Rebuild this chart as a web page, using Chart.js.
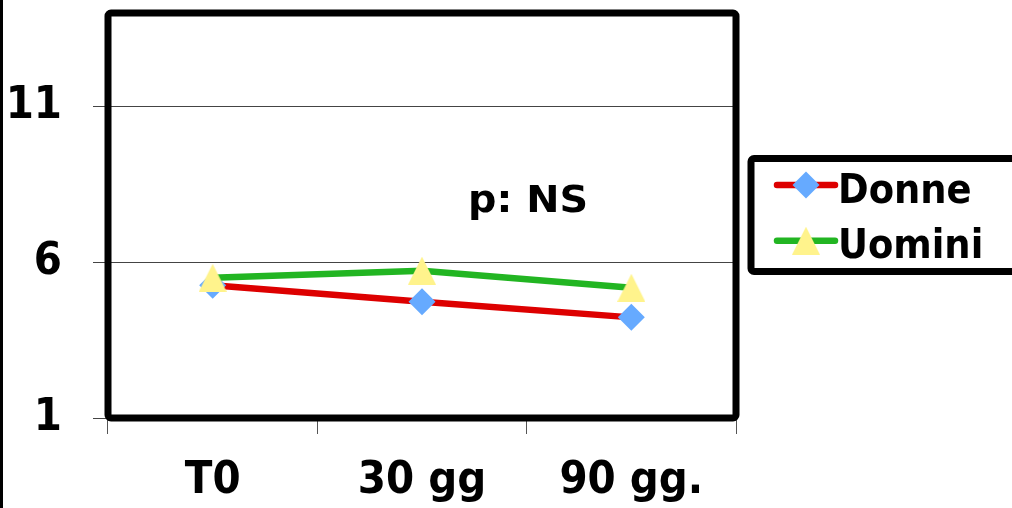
<!DOCTYPE html>
<html>
<head>
<meta charset="utf-8">
<script src="https://cdn.jsdelivr.net/npm/chart.js@4.4.1/dist/chart.umd.min.js"></script>
<style>
  html, body { margin: 0; padding: 0; background: #fff; overflow: hidden; }
  canvas { display: block; }
</style>
</head>
<body>
<canvas id="c" width="1012" height="508"></canvas>
<script>
// Chart values
const categories = ['T0', '30 gg', '90 gg.'];
const donneValues = [5.26, 4.73, 4.23];
const uominiValues = [5.50, 5.73, 5.18];
const yTickValues = [1, 6, 11];
const seriesNames = ['Donne', 'Uomini'];
const noteText = 'p: NS';

const LABEL_FONT = "'DejaVu Sans Condensed', 'DejaVu Sans', sans-serif";

// Isosceles triangle marker (as wide as it is tall)
function makeTriangle(size, color) {
  const c = document.createElement('canvas');
  c.width = size; c.height = size;
  const g = c.getContext('2d');
  g.fillStyle = color;
  g.beginPath();
  g.moveTo(size / 2, 0);
  g.lineTo(size, size);
  g.lineTo(0, size);
  g.closePath();
  g.fill();
  return c;
}
const triangleMarker = makeTriangle(28, '#FFF38C');

// Thick rounded plot frame, left edge rule, boxed legend and note text
const decorPlugin = {
  id: 'decor',
  afterDraw(chart) {
    const { ctx, chartArea: a } = chart;
    ctx.save();

    ctx.fillStyle = '#000';
    ctx.fillRect(0, 0, 3, chart.height);

    ctx.lineWidth = 7;
    ctx.strokeStyle = '#000';
    ctx.lineJoin = 'round';
    ctx.beginPath();
    ctx.roundRect(a.left, a.top, a.right - a.left, a.bottom - a.top, 3);
    ctx.stroke();

    // legend box
    ctx.beginPath();
    ctx.roundRect(751, 158.5, 300, 113, 3);
    ctx.stroke();

    chart.data.datasets.forEach((ds, i) => {
      const ly = 185 + i * 55.7;
      ctx.lineCap = 'round';
      ctx.lineWidth = ds.borderWidth;
      ctx.strokeStyle = ds.borderColor;
      ctx.beginPath();
      ctx.moveTo(777, ly);
      ctx.lineTo(835, ly);
      ctx.stroke();
      ctx.fillStyle = ds.pointBackgroundColor;
      Chart.helpers.drawPoint(ctx, {
        pointStyle: ds.pointStyle, rotation: 0, radius: ds.pointRadius, borderWidth: 0
      }, 806, ly);
      ctx.fillStyle = '#000';
      ctx.font = 'bold 41px ' + LABEL_FONT;
      ctx.textAlign = 'left';
      ctx.textBaseline = 'alphabetic';
      ctx.fillText(ds.label, 838, 203 + i * 55);
    });

    // significance note
    ctx.font = 'bold 38px "DejaVu Sans", sans-serif';
    const w = ctx.measureText(noteText).width;
    ctx.translate(468, 212);
    ctx.scale(120 / w, 1);
    ctx.fillStyle = '#000';
    ctx.textAlign = 'left';
    ctx.textBaseline = 'alphabetic';
    ctx.fillText(noteText, 0, 0);

    ctx.restore();
  }
};

function noPad(s) { s.paddingTop = 0; s.paddingBottom = 0; s.paddingLeft = 0; s.paddingRight = 0; }

new Chart(document.getElementById('c'), {
  type: 'line',
  data: {
    labels: categories,
    datasets: [
      {
        label: seriesNames[0],
        data: donneValues,
        borderColor: '#DD0000',
        borderWidth: 6.5,
        pointStyle: 'rectRot',
        pointRadius: 13.5,
        pointHoverRadius: 13.5,
        pointBackgroundColor: '#66AAFF',
        pointBorderWidth: 0,
        tension: 0,
        order: 1
      },
      {
        label: seriesNames[1],
        data: uominiValues,
        borderColor: '#22B522',
        borderWidth: 6.5,
        pointStyle: triangleMarker,
        pointRadius: 14,
        pointHoverRadius: 14,
        pointBackgroundColor: '#FFF38C',
        pointBorderWidth: 0,
        tension: 0,
        order: 0
      }
    ]
  },
  options: {
    responsive: false,
    animation: false,
    devicePixelRatio: 1,
    layout: { autoPadding: false, padding: { top: 13, right: 276, left: 0, bottom: 0 } },
    plugins: { legend: { display: false }, tooltip: { enabled: false } },
    scales: {
      x: {
        offset: true,
        grid: { offset: true, drawOnChartArea: false, drawTicks: true, tickLength: 16, color: '#555', lineWidth: 1 },
        border: { display: false },
        ticks: { color: '#000', padding: 20, font: { family: LABEL_FONT, size: 45, weight: 'bold' } },
        afterFit(scale) { scale.height = 90; noPad(scale); }
      },
      y: {
        min: 1,
        max: 14,
        afterBuildTicks(scale) { scale.ticks = yTickValues.map(v => ({ value: v })); },
        grid: { color: '#444', lineWidth: 1, tickLength: 15 },
        border: { display: false },
        ticks: { color: '#000', padding: 31, font: { family: LABEL_FONT, size: 45, weight: 'bold' } },
        afterFit(scale) { scale.width = 108; noPad(scale); }
      }
    }
  },
  plugins: [decorPlugin]
});
</script>
</body>
</html>
